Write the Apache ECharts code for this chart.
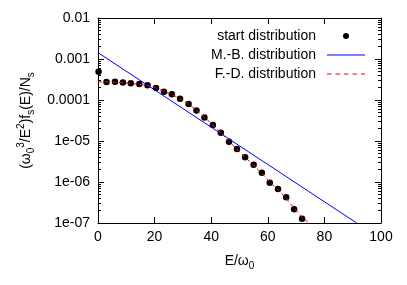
<!DOCTYPE html>
<html><head><meta charset="utf-8">
<script src="https://cdn.jsdelivr.net/npm/echarts@6/dist/echarts.min.js"></script>
<style>html,body{margin:0;padding:0;background:#fff}#c{width:407px;height:285px}</style>
</head><body><div id="c"></div>
<script>
// start distribution points
const startE = [0.2, 3.0, 6.0, 8.8, 11.6, 14.6, 17.5, 20.5, 23.3, 26.1, 29.0, 32.0, 34.8, 37.6, 40.6, 43.4, 46.3, 49.1, 52.0, 55.0, 57.9, 60.7, 63.6, 66.5, 69.3, 72.1];
const startVal = [4.9e-4, 2.75e-4, 2.79e-4, 2.67e-4, 2.57e-4, 2.46e-4, 2.28e-4, 1.96e-4, 1.59e-4, 1.38e-4, 1.08e-4, 7.98e-5, 5.54e-5, 3.74e-5, 2.45e-5, 1.59e-5, 9.61e-6, 6.38e-6, 4.03e-6, 2.64e-6, 1.69e-6, 9.62e-7, 6.75e-7, 4.23e-7, 2.16e-7, 1.27e-7];
// Maxwell-Boltzmann line (straight in log scale)
const mbE = [0, 91.4];
const mbVal = [1.43e-3, 1e-7];
// Fermi-Dirac curve
const fdE = [0, 3.0, 6.0, 8.8, 11.6, 14.6, 17.5, 20.5, 23.3, 26.1, 29.0, 32.0, 34.8, 37.6, 40.6, 43.4, 46.3, 49.1, 52.0, 55.0, 57.9, 60.7, 63.6, 66.5, 69.3, 72.1, 74.5];
const fdVal = [2.80e-4, 2.77e-4, 2.72e-4, 2.64e-4, 2.54e-4, 2.42e-4, 2.25e-4, 1.98e-4, 1.63e-4, 1.36e-4, 1.08e-4, 8.0e-5, 5.6e-5, 3.8e-5, 2.48e-5, 1.6e-5, 9.8e-6, 6.3e-6, 4.0e-6, 2.55e-6, 1.62e-6, 1.0e-6, 6.5e-7, 4.0e-7, 2.3e-7, 1.4e-7, 1.0e-7];
// axis ticks
const xMin = 0, xMax = 100, xStep = 20;
const yMajor = [1e-7, 1e-6, 1e-5, 1e-4, 1e-3, 1e-2];
const yLabels = ['1e-07', '1e-06', '1e-05', '0.0001', '0.001', '0.01'];
const seriesNames = ['start distribution', 'M.-B. distribution', 'F.-D. distribution'];

const yMinor = [];
for (let d = 0; d < yMajor.length - 1; d++) {
  for (let m = 2; m <= 9; m++) yMinor.push(yMajor[d] * m);
}
const font = '"Liberation Sans", Arial, Helvetica, sans-serif';
const zip = (a, b) => a.map((v, i) => [v, b[i]]);
function yFmt(v) {
  let best = 0, bd = Infinity;
  yMajor.forEach((m, i) => { const d = Math.abs(Math.log10(v) - Math.log10(m)); if (d < bd) { bd = d; best = i; } });
  return bd < 0.01 ? yLabels[best] : '';
}
const black = { color: '#000', width: 1 };
function yAx(pos, minor, extra) {
  return Object.assign({
    type: 'log', logBase: 10, min: 1e-7, max: 1e-2, position: pos,
    axisLine: { show: !minor, onZero: false, lineStyle: black },
    axisTick: minor ? { show: true, inside: true, length: 3, customValues: yMinor, lineStyle: black }
                    : { show: true, inside: true, length: 6, lineStyle: black },
    axisLabel: { show: false },
    splitLine: { show: false }, minorTick: { show: false }
  }, extra || {});
}
const rich = {
  s: { fontSize: 10, lineHeight: 10, verticalAlign: 'bottom', fontFamily: font, color: '#000' },
  p: { fontSize: 10, lineHeight: 10, verticalAlign: 'top', fontFamily: font, color: '#000' }
};
const solidIcon = 'path://M0,0H38V1.2H0Z';
const dashIcon = 'path://M0,0H4.5V1.2H0Z M8.5,0H13V1.2H8.5Z M17,0H21.5V1.2H17Z M25.5,0H30V1.2H25.5Z M34,0H38V1.2H34Z';
const chart = echarts.init(document.getElementById('c'));
chart.setOption({
  animation: false,
  backgroundColor: '#fff',
  textStyle: { fontFamily: font },
  grid: { left: 98, right: 26, top: 18, bottom: 62, containLabel: false },
  legend: {
    orient: 'vertical', right: 37, top: 23, align: 'right',
    itemWidth: 38, itemHeight: 6, itemGap: 3, selectedMode: false,
    textStyle: { fontSize: 14, color: '#000', fontFamily: font, lineHeight: 16, padding: [0, 6, 0, 0] },
    data: [
      { name: seriesNames[0] },
      { name: seriesNames[1], icon: solidIcon,
        itemStyle: { color: '#0000ff', borderColor: '#0000ff', borderWidth: 0, borderType: 'solid' } },
      { name: seriesNames[2], icon: dashIcon,
        itemStyle: { color: '#ff0000', borderColor: '#ff0000', borderWidth: 0, borderType: 'solid' } }
    ]
  },
  xAxis: [
    { type: 'value', min: xMin, max: xMax, interval: xStep, position: 'bottom',
      axisLine: { onZero: false, lineStyle: black },
      axisTick: { inside: true, length: 6, lineStyle: black },
      axisLabel: { fontSize: 14, color: '#000', margin: 7, fontFamily: font },
      splitLine: { show: false },
      name: 'E/ω{s|0}', nameLocation: 'middle', nameGap: 28,
      nameTextStyle: { fontSize: 14, color: '#000', fontFamily: font, lineHeight: 20, rich: rich } },
    { type: 'value', min: xMin, max: xMax, interval: xStep, position: 'top',
      axisLine: { onZero: false, lineStyle: black },
      axisTick: { inside: true, length: 6, lineStyle: black },
      axisLabel: { show: false }, splitLine: { show: false } }
  ],
  yAxis: [
    yAx('left', false, {
      axisLabel: { show: true, formatter: yFmt, fontSize: 14, color: '#000', margin: 8, fontFamily: font },
      name: '(ω{s|0}{p|3}/E{p|2})f{s|s}(E)/N{s|s}', nameLocation: 'middle', nameRotate: 90, nameGap: 58,
      nameTextStyle: { fontSize: 14, color: '#000', fontFamily: font, lineHeight: 20, rich: rich }
    }),
    yAx('right', false),
    yAx('left', true),
    yAx('right', true)
  ],
  series: [
    { name: seriesNames[0], type: 'scatter', data: zip(startE, startVal), symbol: 'circle', symbolSize: 6.5,
      itemStyle: { color: '#000', opacity: 1 }, xAxisIndex: 0, yAxisIndex: 0, z: 2 },
    { name: seriesNames[1], type: 'line', data: zip(mbE, mbVal), symbol: 'none', showSymbol: false,
      lineStyle: { color: '#0000ff', width: 1 }, itemStyle: { color: '#0000ff' }, clip: true, z: 3 },
    { name: seriesNames[2], type: 'line', data: zip(fdE, fdVal), symbol: 'none', showSymbol: false,
      lineStyle: { color: '#ff0000', width: 1, type: [4, 3] }, itemStyle: { color: '#ff0000' }, clip: true, z: 4 }
  ]
});
</script></body></html>
